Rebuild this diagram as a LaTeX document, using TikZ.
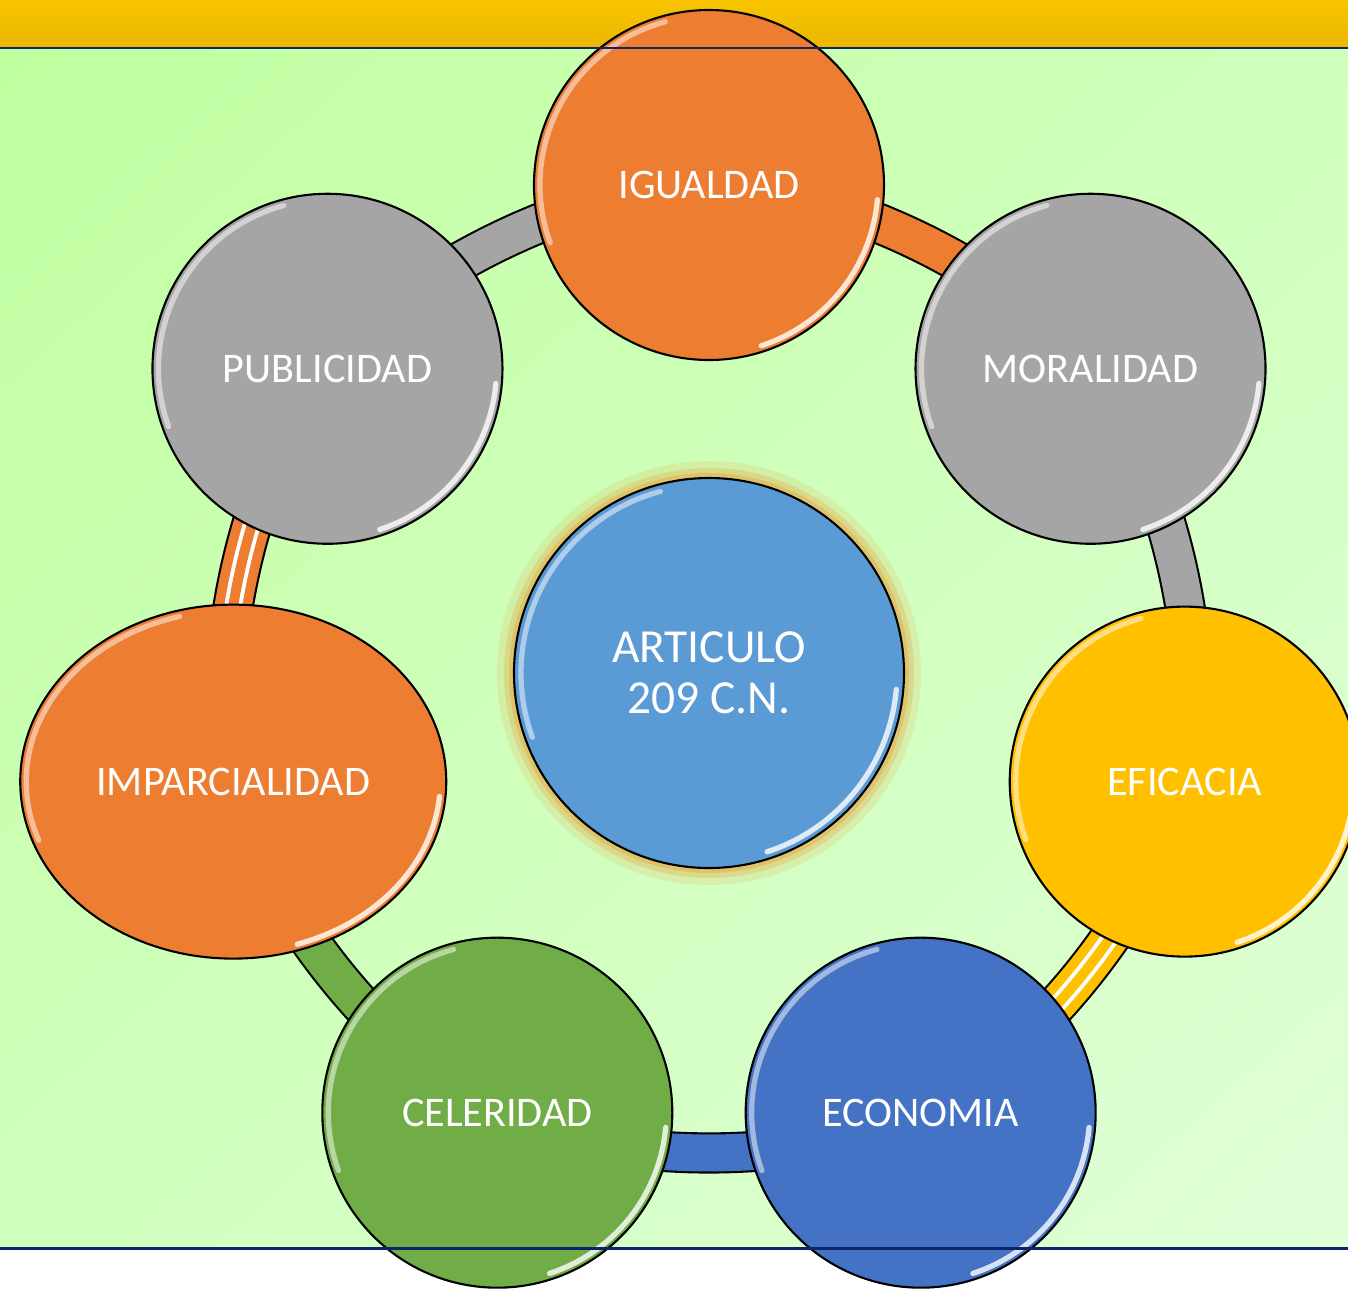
\documentclass[tikz,border=0pt]{standalone}
\usepackage{fontspec}
\setmainfont{Carlito}
\usepackage{tikz}
\usetikzlibrary{shapes, arrows, positioning, backgrounds, shadings}
\definecolor{cOrange}{HTML}{ED7D31}
\definecolor{cGray}{HTML}{A5A5A5}
\definecolor{cGold}{HTML}{FFC000}
\definecolor{cBlue}{HTML}{4472C4}
\definecolor{cGreen}{HTML}{70AD47}
\definecolor{cSky}{HTML}{5B9BD5}
\definecolor{cGlow}{RGB}{228,178,82}
\definecolor{cYelT}{HTML}{F8C400}
\definecolor{cYelB}{HTML}{EBB700}
\definecolor{cBgA}{HTML}{C0FFA0}
\definecolor{cBgM}{HTML}{D0FFBC}
\definecolor{cBgB}{HTML}{E0FFD8}
\definecolor{cNavy}{HTML}{0C2468}

\begin{document}
\begin{tikzpicture}
\tikzset{vertex/.style = {circle, draw=black, line width=0.6pt, inner sep=0pt, minimum size=3.5cm, text=white, font=\fontsize{12}{14.5}\selectfont},
         band/.style = {draw=black, line width=0.6pt, double distance=0.37cm},
         stripes/.style = {draw=white, line width=1.1pt, double distance=0.1cm},
         shine/.style = {white, line width=1.5pt, line cap=round, opacity=0.8}}
\useasboundingbox (-7.09,-6.22) rectangle (6.39,6.73);
            % vertices
	\node[vertex, fill=cSky, minimum size=3.9cm, align=center, font=\fontsize{13.5}{14.5}\selectfont] (art) at (0,0) {ARTICULO\\209 C.N.};
	\node[vertex, fill=cOrange] (igu) at (90:4.88) {IGUALDAD};
	\node[vertex, fill=cGray] (mor) at (38.57:4.88) {MORALIDAD};
	\node[vertex, fill=cGold] (efi) at (-12.86:4.88) {EFICACIA};
	\node[vertex, fill=cBlue] (eco) at (-64.29:4.88) {ECONOMIA};
	\node[vertex, fill=cGreen] (cel) at (-115.71:4.88) {CELERIDAD};
	\node[vertex, ellipse, fill=cOrange, minimum width=4.26cm, minimum height=3.54cm] (imp) at (-167.14:4.88) {IMPARCIALIDAD};
	\node[vertex, fill=cGray] (pub) at (141.43:4.88) {PUBLICIDAD};
\begin{scope}[on background layer]
            % backdrop
	\fill[white] (-7.09,-6.22) rectangle (6.39,6.73);
	\shade[top color=cYelT, bottom color=cYelB] (-7.09,6.25) rectangle (6.39,6.73);
	\shade[upper left=cBgA, upper right=cBgM, lower left=cBgM, lower right=cBgB] (-7.09,-5.75) rectangle (6.39,6.25);
	\fill[cGlow, opacity=0.2] (art.center) circle (2.12);
	\fill[cGlow, opacity=0.35] (art.center) circle (2.05);
	\fill[cGlow, opacity=0.55] (art.center) circle (2.0);
            %edges
	\draw[band, double=cOrange] (igu.center) to[bend left=25.71, looseness=0.75] (mor.center);
	\draw[band, double=cGray] (mor.center) to[bend left=25.71, looseness=0.75] (efi.center);
	\draw[band, double=cGold] (efi.center) to[bend left=25.71, looseness=0.75] (eco.center);
	\draw[band, double=cBlue] (eco.center) to[bend left=25.71, looseness=0.75] (cel.center);
	\draw[band, double=cGreen] (cel.center) to[bend left=25.71, looseness=0.75] (imp.center);
	\draw[band, double=cOrange] (imp.center) to[bend left=25.71, looseness=0.75] (pub.center);
	\draw[band, double=cGray] (pub.center) to[bend left=25.71, looseness=0.75] (igu.center);
	\draw[stripes, double=cOrange] (imp.center) to[bend left=25.71, looseness=0.75] (pub.center);
	\draw[stripes, double=cGold] (efi.center) to[bend left=25.71, looseness=0.75] (eco.center);
\end{scope}
            % bevel highlights
	\draw[shine, opacity=0.5] ([shift={(105:1.88)}]art.center) arc[start angle=105, end angle=200, radius=1.88];
	\draw[shine] ([shift={(-5:1.88)}]art.center) arc[start angle=-5, end angle=-72, radius=1.88];
	\draw[shine, opacity=0.5] ([shift={(105:1.69)}]igu.center) arc[start angle=105, end angle=200, radius=1.69];
	\draw[shine] ([shift={(-5:1.69)}]igu.center) arc[start angle=-5, end angle=-72, radius=1.69];
	\draw[shine, opacity=0.5] ([shift={(105:1.69)}]mor.center) arc[start angle=105, end angle=200, radius=1.69];
	\draw[shine] ([shift={(-5:1.69)}]mor.center) arc[start angle=-5, end angle=-72, radius=1.69];
	\draw[shine, opacity=0.5] ([shift={(105:1.69)}]efi.center) arc[start angle=105, end angle=200, radius=1.69];
	\draw[shine] ([shift={(-5:1.69)}]efi.center) arc[start angle=-5, end angle=-72, radius=1.69];
	\draw[shine, opacity=0.5] ([shift={(105:1.69)}]eco.center) arc[start angle=105, end angle=200, radius=1.69];
	\draw[shine] ([shift={(-5:1.69)}]eco.center) arc[start angle=-5, end angle=-72, radius=1.69];
	\draw[shine, opacity=0.5] ([shift={(105:1.69)}]cel.center) arc[start angle=105, end angle=200, radius=1.69];
	\draw[shine] ([shift={(-5:1.69)}]cel.center) arc[start angle=-5, end angle=-72, radius=1.69];
	\draw[shine, opacity=0.5] ([shift={(105:2.07 and 1.71)}]imp.center) arc[start angle=105, end angle=200, x radius=2.07, y radius=1.71];
	\draw[shine] ([shift={(-5:2.07 and 1.71)}]imp.center) arc[start angle=-5, end angle=-72, x radius=2.07, y radius=1.71];
	\draw[shine, opacity=0.5] ([shift={(105:1.69)}]pub.center) arc[start angle=105, end angle=200, radius=1.69];
	\draw[shine] ([shift={(-5:1.69)}]pub.center) arc[start angle=-5, end angle=-72, radius=1.69];
            % frame lines
	\draw[cNavy, line width=0.85pt] (-7.09,6.25) -- (6.39,6.25);
	\draw[cNavy, line width=0.85pt] (-7.09,-5.75) -- (6.39,-5.75);
\end{tikzpicture}
\end{document}
